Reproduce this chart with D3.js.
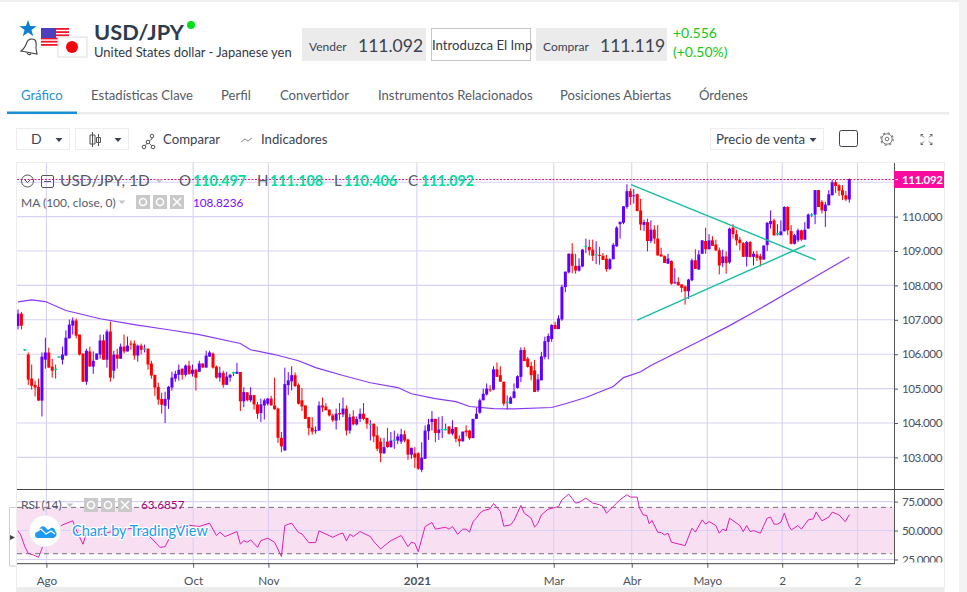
<!DOCTYPE html>
<html><head><meta charset="utf-8">
<script src="https://d3js.org/d3.v7.min.js"></script>
<style>
html,body{margin:0;padding:0;background:#fff;overflow:hidden}
svg{display:block}
text{font-family:Lato,"Open Sans",sans-serif}
</style></head><body><svg id="c" width="967" height="592"></svg>
<script>
// [open, high, low, close] per trading day, grouped by period
const jul=[[106.82,107.30,106.72,107.18],[107.18,107.23,106.72,106.83],[106.12,106.14,106.10,106.13],[105.99,106.05,105.11,105.26],[105.29,105.70,104.97,105.08],[105.11,105.23,104.77,105.03],[105.05,105.29,104.65,104.65],[104.65,106.05,104.19,105.93],[105.84,106.48,105.58,106.05]];
const augSep=[[106.05,106.19,105.61,105.61],[105.64,105.87,105.32,105.52],[105.57,105.70,105.29,105.56],[105.92,105.93,105.90,105.92],[105.84,106.22,105.70,105.99],[105.96,106.69,105.96,106.48],[106.46,107.01,106.46,106.86],[106.83,107.07,106.57,106.98],[106.98,107.04,106.46,106.54],[106.57,106.57,105.96,105.99],[106.02,106.02,105.20,105.20],[105.20,106.16,105.11,106.10],[106.08,106.22,105.64,105.64],[105.64,106.08,105.43,105.81],[105.84,106.02,105.84,106.02],[105.99,106.57,105.87,106.40],[106.40,106.57,105.84,105.84],[105.84,106.72,105.61,106.66],[106.66,106.95,105.20,105.32],[105.52,106.10,105.29,105.99],[105.99,106.16,105.58,105.87],[105.87,106.31,105.87,106.22],[106.22,106.57,106.02,106.08],[106.08,106.51,106.08,106.25],[106.31,106.40,106.13,106.28],[106.31,106.40,105.84,105.96],[105.96,106.28,105.78,106.25],[106.25,106.31,105.99,106.13],[106.14,106.28,106.05,106.15],[106.16,106.16,105.55,105.70],[105.73,105.81,105.29,105.38],[105.40,105.40,104.79,105.03],[105.05,105.17,104.53,104.68],[104.70,104.88,104.27,104.53],[104.50,104.91,104.00,104.70],[104.68,105.08,104.41,105.05],[105.03,105.49,104.94,105.32],[105.29,105.52,105.20,105.43],[105.40,105.70,105.23,105.55],[105.58,105.58,105.26,105.40],[105.40,105.70,105.35,105.67],[105.67,105.81,105.40,105.43],[105.43,105.70,105.35,105.55]];
const oct=[[105.55,105.58,104.94,105.32],[105.49,105.81,105.49,105.73],[105.73,105.73,105.61,105.61],[105.61,106.10,105.61,105.96],[105.93,106.10,105.93,106.05],[106.02,106.05,105.58,105.61],[105.64,105.67,105.29,105.32],[105.32,105.64,105.20,105.46],[105.46,105.52,105.03,105.11],[105.11,105.49,105.11,105.35],[105.32,105.43,105.20,105.40],[105.45,105.49,105.37,105.46],[105.43,105.75,105.43,105.49],[105.48,105.48,104.35,104.63],[104.63,105.04,104.46,104.90],[104.89,104.90,104.63,104.66],[104.66,105.04,104.61,104.81],[104.81,104.82,104.39,104.54],[104.54,104.61,104.12,104.27],[104.29,104.71,104.03,104.54],[104.51,104.71,104.10,104.66],[104.56,104.73,104.51,104.71]];
const novDec=[[104.71,104.79,104.51,104.51],[104.51,105.32,104.39,104.40],[104.42,104.45,103.42,103.57],[103.57,103.74,103.15,103.32],[103.20,105.61,103.20,105.13],[105.10,105.48,104.81,105.24],[105.21,105.65,104.95,105.39],[105.39,105.47,105.05,105.07],[105.10,105.15,104.54,104.56],[104.66,105.02,104.35,104.48],[104.51,104.51,104.12,104.12],[104.17,104.17,103.64,103.85],[103.87,104.17,103.66,103.75],[103.77,103.90,103.69,103.79],[103.78,104.63,103.78,104.51],[104.51,104.74,104.32,104.45],[104.48,104.58,104.37,104.37],[104.39,104.39,104.19,104.22],[104.22,104.27,104.03,104.08],[104.07,104.42,103.81,104.27],[104.29,104.58,104.08,104.25],[104.25,104.74,104.17,104.42],[104.42,104.51,103.64,103.78],[103.78,104.27,103.69,104.17],[104.19,104.37,103.93,103.96],[103.96,104.19,103.93,104.12],[104.12,104.42,104.03,104.27],[104.27,104.58,104.08,104.12],[104.15,104.15,103.83,103.98],[103.95,104.08,103.49,103.96],[103.98,103.98,103.44,103.61],[103.64,103.90,103.18,103.25],[103.46,103.57,102.86,103.12],[103.12,103.57,103.10,103.30],[103.46,103.86,103.28,103.30],[103.30,103.74,103.28,103.49],[103.49,103.78,103.25,103.50],[103.49,103.69,103.39,103.61],[103.46,103.83,103.39,103.67],[103.67,103.78,103.44,103.49],[103.52,103.54,102.93,103.08],[103.08,103.28,102.96,103.28],[103.12,103.30,102.69,102.99]];
const janFeb=[[103.12,103.15,102.64,102.67],[102.64,103.44,102.57,102.99],[102.96,103.93,102.96,103.78],[103.76,104.12,103.51,103.96],[104.03,104.35,103.78,104.12],[104.12,104.12,103.44,103.71],[103.71,104.17,103.51,103.81],[103.80,104.20,103.56,103.81],[103.80,103.98,103.78,103.81],[103.90,103.90,103.66,103.69],[103.69,104.08,103.64,103.83],[103.88,103.88,103.44,103.54],[103.54,103.64,103.32,103.47],[103.47,103.75,103.46,103.75],[103.78,103.93,103.61,103.73],[103.78,103.80,103.51,103.56],[103.56,104.12,103.56,104.12],[104.12,104.45,104.12,104.27],[104.30,104.71,104.27,104.66],[104.66,105.00,104.66,104.85],[104.83,105.15,104.80,105.00],[104.98,105.10,104.90,104.95],[104.97,105.65,104.95,105.56],[105.56,105.76,105.34,105.34],[105.39,105.65,105.20,105.20],[105.20,105.20,104.50,104.56],[104.58,104.80,104.40,104.60],[104.56,104.78,104.56,104.74],[104.73,105.15,104.71,104.92],[105.02,105.39,105.00,105.36],[105.34,106.20,105.19,106.12],[106.12,106.20,105.80,105.80],[105.87,105.92,105.61,105.63],[105.66,105.78,105.24,105.39],[105.53,105.83,104.90,104.90],[104.95,105.42,104.90,105.27],[105.24,106.07,105.24,105.94],[105.92,106.51,105.85,106.38],[106.36,106.60,105.85,106.53],[106.44,106.87,106.36,106.85]];
const mar=[[106.85,106.94,106.73,106.73],[106.73,107.13,106.73,107.04],[107.01,108.02,106.97,107.96],[107.95,108.40,107.80,108.40],[108.38,108.93,108.35,108.92],[108.92,109.23,108.35,108.57],[108.57,108.92,108.34,108.43],[108.43,108.79,108.40,108.57],[108.55,109.06,108.53,109.04],[109.12,109.36,108.94,109.13],[109.12,109.33,108.87,109.02],[109.04,109.33,108.71,108.86],[108.88,109.28,108.62,108.89],[108.89,109.12,108.60,108.86],[108.86,108.94,108.74,108.74],[108.78,108.89,108.40,108.47],[108.48,108.79,108.45,108.76],[108.76,109.23,108.76,109.18],[109.14,109.72,109.12,109.68],[109.78,109.85,109.36,109.85],[109.82,110.30,109.78,110.30],[110.28,110.94,110.23,110.74],[110.74,110.82,110.34,110.57]];
const apr=[[110.60,110.80,110.38,110.62],[110.65,110.67,110.16,110.16],[110.18,110.52,109.60,109.77],[109.76,109.91,109.58,109.84],[109.84,109.94,108.99,109.29],[109.29,109.89,109.23,109.62],[109.62,109.75,109.21,109.36],[109.36,109.75,108.87,108.87],[108.90,109.10,108.84,108.84],[108.85,108.87,108.65,108.65],[108.63,108.92,108.63,108.78],[108.71,108.73,108.02,108.05],[108.07,108.50,108.05,108.09],[108.10,108.24,108.00,108.00],[108.03,108.03,107.80,107.93],[107.97,108.00,107.44,107.83],[107.83,108.19,107.61,108.17],[108.15,108.78,108.12,108.73],[108.73,109.05,108.48,108.48],[108.46,109.02,108.46,108.90],[108.92,109.31,108.92,109.31],[109.29,109.68,108.92,109.05]];
const may=[[109.05,109.49,109.05,109.31],[109.31,109.43,109.15,109.15],[109.19,109.33,109.00,109.02],[109.02,109.10,108.32,108.58],[108.65,109.04,108.53,108.84],[108.84,108.99,108.34,108.65],[108.67,109.68,108.63,109.65],[109.68,109.78,109.36,109.49],[109.49,109.62,109.16,109.31],[109.33,109.41,109.02,109.23],[109.23,109.26,108.83,108.83],[108.83,109.29,108.55,109.26],[109.26,109.29,108.81,108.83],[108.83,108.99,108.58,108.92],[108.90,109.00,108.71,108.80],[108.85,108.92,108.55,108.75],[108.75,109.16,108.75,109.16],[109.17,109.84,109.00,109.82],[109.78,110.18,109.65,109.87],[109.89,109.94,109.43,109.46],[109.48,109.78,109.45,109.50],[109.46,109.89,109.46,109.57]];
const jun=[[109.57,110.30,109.58,110.28],[110.28,110.30,109.46,109.60],[109.58,109.75,109.19,109.21],[109.21,109.50,109.19,109.46],[109.31,109.65,109.26,109.60],[109.60,109.62,109.29,109.33],[109.33,109.84,109.33,109.62],[109.65,110.09,109.65,110.06],[110.04,110.10,109.99,110.05],[110.06,110.77,109.78,110.77],[110.77,110.77,110.28,110.28],[110.43,110.48,110.09,110.18],[110.16,110.43,109.70,110.35],[110.33,110.77,110.33,110.65],[110.62,111.06,110.62,111.00],[111.00,111.06,110.69,110.89],[110.91,110.94,110.60,110.75],[110.77,110.91,110.48,110.62],[110.62,110.75,110.45,110.50],[110.497,111.108,110.406,111.092]];

const maIdx=[0,4,8,14,24,34,44,53,65,68,75,82,87,95,103,111,115,122,128,132,139,145,156,160,166,174,177,182,185,199,208,217,229,243];
const maVal=[107.52,107.58,107.53,107.27,107.03,106.86,106.71,106.57,106.31,106.13,105.99,105.81,105.61,105.38,105.17,105.03,104.85,104.71,104.62,104.48,104.42,104.41,104.45,104.56,104.74,105.06,105.32,105.49,105.67,106.37,106.83,107.33,108.02,108.8236];

const rsiIdx=[0,0.8,2,3,4.5,6,7,8,10,13,16,17,19,20,24,29,34,37,39,41.5,43,44,46,49,53,56,58,59,60.5,64,65,66,67,68,70,71,73,75,77,78,80,82,83,85,87,88,92,94,95,96,97,98,100,103,104,106,107,109,112,114,115,116,117,119,121,122,125,126,127,128.5,130,131,132,133,134,135,136,138,139,141,142,144,145,147,148,150,151,152,153,155,157,158,159,161,163,164,166,168,170,171,172,173,175,176,178,179,181,181.6,182.7,183.8,184.5,185.3,187,188,189,190,191,195,197,198,200,201,202,204,205,206,207,208,211,212,213,214,215,217,218,219,220,221,222,223,224,225.4,226.1,228,229,231,232.5,233.3,235,237,238,240,241.8,243];
const rsiVal=[49.7,46.2,36.1,30.3,28.9,26.9,34.4,46.2,48.6,54.9,58.4,50.6,38.2,47.7,46.2,50.6,52,48.6,43.4,35.5,36.1,41.9,50.6,54.9,53.5,56.4,45.7,48.6,44.8,49.1,38.2,41.3,39.9,41.9,35.5,41.3,43.4,39.9,27.5,54.3,56.4,48.3,47.1,39.6,39.6,49.7,44.2,47.1,47.7,41,46.8,44.8,49.1,44.8,40.5,34.1,36.7,41.3,45.7,36.1,39.9,39,31.8,53.5,56.9,51.2,52.9,51.2,53.5,46.8,51.2,51.2,48.6,57.8,60.7,65,67.1,68.8,73.4,66.5,53.8,54.9,58.7,71.7,65,60.7,52.9,56.4,63.6,68.5,69.9,70.8,76.6,81.5,73.7,74.3,78,73.7,72.3,70.8,65,67.9,73.7,76.6,80.9,78.9,78.9,70,63.6,63,55.8,58.7,48.6,48.3,46.2,47.7,39.9,37,52,48.6,59.2,55.5,57.8,54.3,47.7,51.2,49.7,60.7,54.3,49.1,54.3,49.1,50,47.7,54.3,60.7,61.6,55.5,55.5,57.2,65,53.5,50.6,54.3,51.2,59.2,60.1,65.9,58.4,61.6,65.9,63.6,57.6,63.6857];

const trendA=[[179.2,110.93],[233.2,108.74]];
const trendB=[[181,106.99],[230.1,109.16]];

const priceTicks=[103,104,105,106,107,108,109,110,111];
const priceLabelTicks=[103,104,105,106,107,108,109,110];
const rsiTicks=[25,50,75];
const xTickIdx=[8.3,51.2,73.2,116.6,156.6,179.4,201.5,223.4,245.4];
const xTickLabels=["Ago","Oct","Nov","2021","Mar","Abr","Mayo","2","2"];
const tabs=["Gráfico","Estadísticas Clave","Perfil","Convertidor","Instrumentos Relacionados","Posiciones Abiertas","Órdenes"];
const tabX=[21,91,221,280,378,560,699];

const candles=[].concat(jul,augSep,oct,novDec,janFeb,mar,apr,may,jun);
const UP="#6200ff",DOWN="#ff0000",FLAT="#00d89b",GRID="#d8d1f3",TEXT="#4a5160";

const x=d3.scaleLinear().domain([0,243]).range([18,849.3]);
const y=d3.scaleLinear().domain([103,111]).range([457.4,182.2]);
const yr=d3.scaleLinear().domain([25,75]).range([559.5,501.6]);

const svg=d3.select("#c");
const R=(p,a)=>p.append("rect").attr("x",a[0]).attr("y",a[1]).attr("width",a[2]).attr("height",a[3]);
const T=(s,xx,yy,size,fill,extra)=>{const t=svg.append("text").attr("x",xx).attr("y",yy).attr("font-size",size).attr("fill",fill).text(s);
  if(extra)Object.keys(extra).forEach(k=>t.attr(k,extra[k]));return t;};

// page surround
R(svg,[0,0,967,592]).attr("fill","#fff");
R(svg,[0,0,967,2]).attr("fill","#efefef");
R(svg,[959,0,8,592]).attr("fill","#f3f3f3");
R(svg,[16,587.5,928.5,5]).attr("fill","#ececec");

// header
const star=d3.range(10).map(i=>{const r=i%2?3.6:9,a=-Math.PI/2+i*Math.PI/5;return [28+r*Math.cos(a),29+r*Math.sin(a)].join(",")}).join(" ");
svg.append("polygon").attr("points",star).attr("fill","#0b7fd4");
svg.append("path").attr("d","M21 51c3-2 5-6 6-9 1-3 5-4 8-2 2 2 1 5 1 8 0 2 1 4 1 6zM27 52c0 3 3 3 4 2").attr("fill","none").attr("stroke","#444").attr("stroke-width",1.1);
R(svg,[41,28,28,19]).attr("fill","#fff");
d3.range(6).forEach(i=>R(svg,[41,28+i*3.2,28,1.8]).attr("fill","#f0162a"));
R(svg,[41,28,15,10]).attr("fill","#4b3fbd");
R(svg,[58,37,29,20]).attr("fill","#fff").attr("stroke","#ddd");
svg.append("circle").attr("cx",72).attr("cy",47).attr("r",6).attr("fill","#f5000f");
T("USD/JPY",94,40,21.8,"#2e3b4c",{"font-weight":700});
svg.append("circle").attr("cx",191).attr("cy",25).attr("r",4).attr("fill","#00e01a");
T("United States dollar - Japanese yen",94,57,12.95,"#333a48");
R(svg,[302,28,124,33]).attr("fill","#ebebeb");
T("Vender",309,51,12,"#3b4252");
T("111.092",358,52,17.5,"#3b4252");
R(svg,[431.5,28.5,99,32]).attr("fill","#fff").attr("stroke","#c8c8c8");
T("Introduzca El Imp",432,50,13.2,"#333a48");
R(svg,[536,28,131,33]).attr("fill","#ebebeb");
T("Comprar",543,51,12,"#3b4252");
T("111.119",600,52,17.5,"#3b4252");
T("+0.556",673,38,14,"#13c913");
T("(+0.50%)",673,57,14,"#13c913");

// tabs
tabs.forEach((s,i)=>T(s,tabX[i],100,13.1,i?"#555b66":"#1b8fd6"));
R(svg,[7,112,942,2.5]).attr("fill","#ececec");
R(svg,[7,111.5,70,2.5]).attr("fill","#1b8fd6");

// toolbar
[[16,53],[75,53],[710,113]].forEach(b=>R(svg,[b[0]+.5,128.5,b[1],21]).attr("fill","#fff").attr("stroke","#ededed"));
const caret=(cx,cy)=>svg.append("path").attr("d",`M${cx-3.5} ${cy-2}h7l-3.5 4z`).attr("fill","#3b4252");
T("D",31,144,14,"#3b4252");caret(59,140);caret(118,140);caret(813,140);
svg.append("path").attr("d","M92.5 132v15M92.5 135h-2.5v9h5v-9zM98.5 134v12M98.5 137.5h-2v5h4v-5z").attr("fill","none").attr("stroke","#555").attr("stroke-width",1);
svg.append("path").attr("d","M144 147l4-5 4-3M148 142l5 5M152 139l0-3").attr("fill","none").attr("stroke","#666");
[[144,147],[148,142],[153,147],[152,136]].forEach(p=>svg.append("circle").attr("cx",p[0]).attr("cy",p[1]).attr("r",1.8).attr("fill","#fff").attr("stroke","#555"));
T("Comparar",163,144,13.2,"#3b4252");
svg.append("path").attr("d","M241 142l4-3 3 2 4-3").attr("fill","none").attr("stroke","#888");
T("Indicadores",261,144,13.2,"#3b4252");
T("Precio de venta",716,144,13.2,"#3b4252");
R(svg,[839.5,130.5,18,16]).attr("rx",2).attr("fill","#fff").attr("stroke","#3b4252");
svg.append("circle").attr("cx",887).attr("cy",139).attr("r",5.2).attr("fill","none").attr("stroke","#777");
svg.append("circle").attr("cx",887).attr("cy",139).attr("r",6.2).attr("fill","none").attr("stroke","#888").attr("stroke-width",1.4).attr("stroke-dasharray","2.2 2.67");
svg.append("circle").attr("cx",887).attr("cy",139).attr("r",1.8).attr("fill","none").attr("stroke","#777");
svg.append("path").attr("d","M921 134.5l3 3M921 134.5h2M921 134.5v2M932 134.5l-3 3M932 134.5h-2M932 134.5v2M921 144.5l3-3M921 144.5h2M921 144.5v-2M932 144.5l-3-3M932 144.5h-2M932 144.5v-2").attr("fill","none").attr("stroke","#666");

// chart frame
R(svg,[16.5,162.5,928,425]).attr("fill","#fff").attr("stroke","#ededed");
const defs=svg.append("defs");
defs.append("clipPath").attr("id","cp").append("rect").attr("x",17).attr("y",163).attr("width",878).attr("height",326);
defs.append("clipPath").attr("id","cr").append("rect").attr("x",17).attr("y",490).attr("width",925).attr("height",73.5);

// RSI band
R(svg,[17,yr(70),877,yr(30)-yr(70)]).attr("fill","#f8dff2");

// grids
const gv=svg.append("g");
gv.selectAll("line").data(xTickIdx).join("line").attr("x1",d=>x(d)).attr("x2",d=>x(d)).attr("y1",163).attr("y2",564).attr("stroke",GRID).attr("stroke-width",1.1);
const gh=svg.append("g");
gh.selectAll("line").data(priceTicks).join("line").attr("x1",17).attr("x2",895).attr("y1",d=>y(d)).attr("y2",d=>y(d)).attr("stroke",GRID).attr("stroke-width",1.1);
const ghr=svg.append("g").attr("clip-path","url(#cr)");
ghr.selectAll("line").data(rsiTicks).join("line").attr("x1",17).attr("x2",895).attr("y1",d=>yr(d)).attr("y2",d=>yr(d)).attr("stroke",GRID).attr("stroke-width",1.1);
svg.append("g").selectAll("line").data([70,30]).join("line").attr("x1",17).attr("x2",892).attr("y1",d=>yr(d)).attr("y2",d=>yr(d)).attr("stroke","#776f78").attr("stroke-dasharray","5 4");

// main pane
const main=svg.append("g").attr("clip-path","url(#cp)");
const line=d3.line().x(d=>x(d[0])).y(d=>y(d[1]));
main.append("path").datum(maIdx.map((d,i)=>[d,maVal[i]])).attr("d",line).attr("fill","none").attr("stroke","#8a38f5").attr("stroke-width",1.2);

const cg=main.append("g").selectAll("g").data(candles).join("g");
const col=d=>d[3]>=d[0]?UP:DOWN;
const isFlat=d=>Math.abs(d[3]-d[0])<=0.02;
cg.append("line").attr("x1",(d,i)=>x(i)).attr("x2",(d,i)=>x(i)).attr("y1",d=>y(d[1])).attr("y2",d=>y(d[2])).attr("stroke",col).attr("stroke-width",1);
cg.append("rect").attr("x",(d,i)=>x(i)-1.5).attr("width",3)
  .attr("y",d=>isFlat(d)?y(d[3])-.75:y(Math.max(d[0],d[3])))
  .attr("height",d=>isFlat(d)?1.5:Math.max(1,Math.abs(y(d[0])-y(d[3]))))
  .attr("fill",d=>isFlat(d)?FLAT:col(d));

[trendA,trendB].forEach(t=>main.append("path").datum(t).attr("d",line).attr("fill","none").attr("stroke","#13bfa2").attr("stroke-width",1.4));

// last price
main.append("line").attr("x1",17).attr("x2",895).attr("y1",y(111.092)+.5).attr("y2",y(111.092)+.5).attr("stroke","#e0108f").attr("stroke-dasharray","2 1.5");

// RSI line
const rsiLine=d3.line().x(d=>x(d[0])).y(d=>yr(d[1]));
svg.append("path").datum(rsiIdx.map((d,i)=>[d,rsiVal[i]])).attr("d",rsiLine).attr("fill","none").attr("stroke","#df1fb4").attr("stroke-width",1);

// axes & frame lines
const axP=svg.append("g").attr("transform","translate(895,0)").call(d3.axisRight(y).tickValues(priceLabelTicks).tickFormat(d3.format(".3f")).tickSize(3).tickPadding(4));
defs.append("clipPath").attr("id","cl").append("rect").attr("x",-1).attr("y",490).attr("width",50).attr("height",72.5);
const axR=svg.append("g").attr("transform","translate(895,0)").attr("clip-path","url(#cl)").call(d3.axisRight(yr).tickValues(rsiTicks).tickFormat(d3.format(".4f")).tickSize(3).tickPadding(4));
const axX=svg.append("g").attr("transform","translate(0,563.7)").call(d3.axisBottom(x).tickValues(xTickIdx).tickFormat((d,i)=>xTickLabels[i]).tickSize(4).tickPadding(9));
[axP,axR,axX].forEach(a=>{a.select(".domain").remove();a.selectAll("text").attr("font-family","'Liberation Sans',Arial,sans-serif").attr("font-size",11.7).attr("fill",TEXT);a.selectAll("line").attr("stroke","#555");});
[axP,axR].forEach(a=>a.selectAll("text").attr("letter-spacing","-0.5"));
axX.selectAll("text").filter(d=>d===116.6).attr("font-weight",700);
svg.append("line").attr("x1",894.5).attr("x2",894.5).attr("y1",163).attr("y2",564).attr("stroke","#555");
svg.append("line").attr("x1",17).attr("x2",944).attr("y1",489.5).attr("y2",489.5).attr("stroke","#444");
svg.append("line").attr("x1",17).attr("x2",895).attr("y1",563.7).attr("y2",563.7).attr("stroke","#444");

// price tag
R(svg,[894,171,50,17]).attr("fill","#fa0a9e");
svg.append("line").attr("x1",895).attr("x2",898).attr("y1",y(111.092)+.5).attr("y2",y(111.092)+.5).attr("stroke","#fff");
T("111.092",902,183.5,11.5,"#fff",{"font-weight":700,"font-family":"'Liberation Sans',Arial,sans-serif","letter-spacing":"-0.3"});

// legend
svg.append("circle").attr("cx",27.5).attr("cy",181).attr("r",6).attr("fill","none").attr("stroke","#555");
svg.append("path").attr("d","M24.5 179.5l3 3 3-3").attr("fill","none").attr("stroke","#555");
R(svg,[41.5,175.5,12,12]).attr("rx",1.5).attr("fill","none").attr("stroke","#555");
svg.append("line").attr("x1",44).attr("x2",51).attr("y1",181.5).attr("y2",181.5).attr("stroke","#555");
T("USD/JPY, 1D",60,186,15.5,"#555b66");
const tri=(cx,cy)=>svg.append("path").attr("d",`M${cx-3.5} ${cy-1.5}h7l-3.5 3.5z`).attr("fill","#c4c4c4");
tri(159,181);
[["O",179,"110.497",193],["H",257,"111.108",270],["L",334,"110.406",344],["C",408,"111.092",421]].forEach(o=>{
  T(o[0],o[1],186,15,"#555b66");T(o[2],o[3],186,14.3,"#00dd9e",{"font-weight":700});});
T("MA (100, close, 0)",21,207,12,"#555b66");tri(122,202);
[136,153,170].forEach(a=>R(svg,[a,195,14,14]).attr("fill","#c9c9c9"));
[143,160].forEach(c=>svg.append("circle").attr("cx",c).attr("cy",202).attr("r",3.5).attr("fill","none").attr("stroke","#fff").attr("stroke-width",1.6));
svg.append("path").attr("d","M173 198l8 8M181 198l-8 8").attr("stroke","#fff").attr("stroke-width",1.5);
T("108.8236",193,207,11.7,"#7a0bff");

T("RSI (14)",21,509,12,"#555b66");tri(70,505);
[84,101,118].forEach(a=>R(svg,[a,498,14,14]).attr("fill","#c9c9c9"));
[91,108].forEach(c=>svg.append("circle").attr("cx",c).attr("cy",505).attr("r",3.5).attr("fill","none").attr("stroke","#fff").attr("stroke-width",1.6));
svg.append("path").attr("d","M121 501l8 8M129 501l-8 8").attr("stroke","#fff").attr("stroke-width",1.5);
T("63.6857",141,509,11.7,"#a8007c");

// collapse widget
svg.append("path").attr("d","M16 507.5H9.5V566H16").attr("fill","#fff").attr("stroke","#cfcfcf");
svg.append("path").attr("d","M10 535l5 2.5-5 2.5z").attr("fill","#444");

// watermark
svg.append("circle").attr("cx",45).attr("cy",531).attr("r",16).attr("fill","#fff").attr("stroke","#f0e6ee");
svg.append("path").attr("d","M35 535c0-3 2-4 4-5 1-3 4-5 6-3l3 3 3-2c2-1 4 1 4 3 2 1 2 5 0 6-1 1-2 1-3 1H38c-2 0-3-1-3-3z").attr("fill","#1e9bf0");
svg.append("path").attr("d","M36 532l5-3 5 5 5-3 4 3").attr("fill","none").attr("stroke","#fff").attr("stroke-width",1.2);
T("Chart by TradingView",72,536,14.5,"#1e9bf0",{"stroke":"#fff","stroke-width":2.5,"paint-order":"stroke"});
</script></body></html>
